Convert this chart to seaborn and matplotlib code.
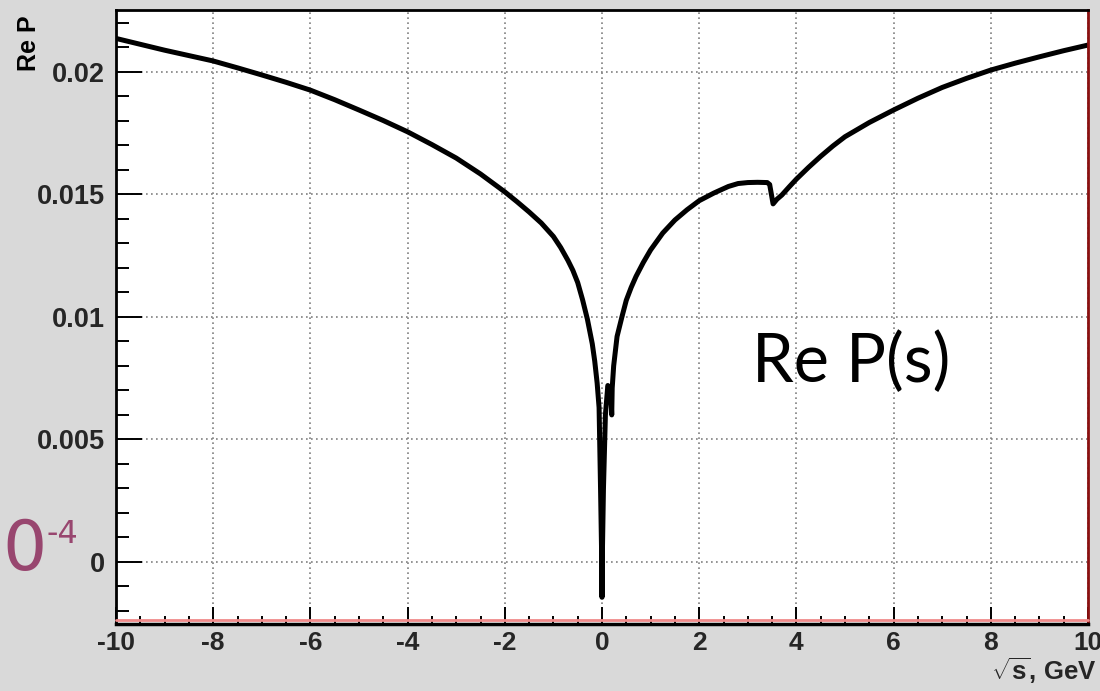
import matplotlib
matplotlib.use("Agg")
import matplotlib.pyplot as plt
import numpy as np
import pandas as pd
import seaborn as sns
from matplotlib.ticker import MultipleLocator, FixedLocator, FixedFormatter

# Real part of P(s) versus sqrt(s)
sqrt_s = [-10, -9.5, -9, -8.5, -8, -7.5, -7, -6.5, -6, -5.5, -5, -4.5, -4, -3.5,
          -3, -2.5, -2, -1.75, -1.5, -1.25, -1, -0.85, -0.7, -0.6, -0.5, -0.4,
          -0.3, -0.2, -0.15, -0.1, -0.06, -0.03, -0.005, 0.0, 0.005, 0.03, 0.07,
          0.12, 0.18, 0.20, 0.21, 0.24, 0.31, 0.41, 0.5, 0.6, 0.7, 0.85, 1.0,
          1.25, 1.5, 1.75, 2.0, 2.3, 2.6, 2.8, 3.0, 3.2, 3.4, 3.45, 3.52, 3.6,
          3.7, 3.85, 4.0, 4.25, 4.5, 4.75, 5.0, 5.5, 6.0, 6.5, 7.0, 7.5, 8.0,
          8.5, 9.0, 9.5, 10.0]
re_p = [0.02136, 0.02112, 0.02088, 0.02066, 0.02044, 0.02016, 0.01987, 0.01957,
        0.01925, 0.01886, 0.01844, 0.01801, 0.01755, 0.01703,
        0.01648, 0.01583, 0.01510, 0.01470, 0.01428, 0.01383, 0.01328, 0.01283,
        0.01230, 0.01190, 0.01140, 0.01070,
        0.00990, 0.00890, 0.00820, 0.00730, 0.00630, 0.00300, 0.00000, -0.00144,
        0.00000, 0.00300, 0.00600,
        0.00720, 0.00700, 0.00600, 0.00710, 0.00800, 0.00920, 0.01000, 0.01068,
        0.01120, 0.01165, 0.01222, 0.01273,
        0.01342, 0.01395, 0.01437, 0.01474, 0.01505, 0.01532, 0.01544, 0.01548,
        0.01549, 0.01548, 0.01540, 0.01461, 0.01480,
        0.01497, 0.01530, 0.01562, 0.01610, 0.01655, 0.01697, 0.01735, 0.01793,
        0.01844, 0.01892, 0.01936, 0.01973, 0.02007,
        0.02035, 0.02061, 0.02086, 0.02109]

x_ticks = [-10, -8, -6, -4, -2, 0, 2, 4, 6, 8, 10]
x_tick_labels = ["-10", "-8", "-6", "-4", "-2", "0", "2", "4", "6", "8", "10"]
y_ticks = [0, 0.005, 0.01, 0.015, 0.02]
y_tick_labels = ["0", "0.005", "0.01", "0.015", "0.02"]

sns.set_style("ticks")
plt.rcParams["font.family"] = ["Liberation Sans", "DejaVu Sans"]
plt.rcParams["font.weight"] = "bold"
plt.rcParams["mathtext.fontset"] = "custom"
plt.rcParams["mathtext.rm"] = "Liberation Sans:bold"
plt.rcParams["mathtext.bf"] = "Liberation Sans:bold"

W, H = 1100, 691
fig = plt.figure(figsize=(W / 100, H / 100), dpi=100, facecolor="#d9d9d9")
ax = fig.add_axes([116 / W, (H - 624) / H, (1088 - 116) / W, (624 - 10) / H])
ax.set_facecolor("white")

df = pd.DataFrame({"sqrt_s": sqrt_s, "re_p": re_p})
sns.lineplot(data=df, x="sqrt_s", y="re_p", ax=ax, color="black", lw=3.6,
             estimator=None, sort=False)
for ln in ax.get_lines():
    ln.set_solid_joinstyle("round")
    ln.set_solid_capstyle("round")

ax.set_xlim(-10, 10)
ax.set_ylim(-0.00253, 0.02252)

ax.xaxis.set_major_locator(FixedLocator(x_ticks))
ax.xaxis.set_major_formatter(FixedFormatter(x_tick_labels))
ax.xaxis.set_minor_locator(MultipleLocator(0.5))
ax.yaxis.set_major_locator(FixedLocator(y_ticks))
ax.yaxis.set_major_formatter(FixedFormatter(y_tick_labels))
ax.yaxis.set_minor_locator(MultipleLocator(0.001))

ax.tick_params(axis="x", which="major", direction="in", length=12, width=1.4,
               pad=5, labelsize=19, color="black")
ax.tick_params(axis="x", which="minor", direction="in", length=6, width=1.4,
               color="black")
ax.tick_params(axis="y", which="major", direction="in", length=19, width=1.4,
               pad=8, labelsize=19.5, color="black")
ax.tick_params(axis="y", which="minor", direction="in", length=9, width=1.4,
               color="black")

ax.grid(True, which="major", color="#808080", lw=1.2, linestyle=(0, (1, 2)))

for side in ["left", "top"]:
    ax.spines[side].set_color("black")
    ax.spines[side].set_linewidth(2)
ax.spines["bottom"].set_color("black")
ax.spines["bottom"].set_linewidth(2.5)
ax.spines["right"].set_color("#8a1010")
ax.spines["right"].set_linewidth(2)
# thin red frame line along the lower edge
ax.plot([0, 1], [0.006, 0.006], transform=ax.transAxes, color="#f08a8a",
        lw=2, clip_on=False, zorder=5)

ax.set_xlabel(r"$\sqrt{\mathbf{s}}$, GeV", fontsize=18.5, fontweight="bold", loc="right")
ax.xaxis.set_label_coords((1097 - 116) / 972, -(655 - 624) / 614)
ax.set_ylabel("")
fig.text(29 / W, 1 - 15 / H, "Re P", rotation=90, fontsize=18, fontweight="bold",
         ha="center", va="top", color="black")

# curve annotation
fig.text(752 / W, 1 - 382 / H, "Re P(s)", fontsize=48, fontweight="normal",
         family=["Lato", "DejaVu Sans"], ha="left", va="baseline", color="black")

# scale factor from the surrounding page
fig.text(47 / W, 1 - 570 / H, "0", fontsize=50, fontweight="normal",
         family=["DejaVu Sans"], ha="right", va="baseline", color="#98466f")
fig.text(46 / W, 1 - 543 / H, "-4", fontsize=23, fontweight="normal",
         family=["DejaVu Sans"], ha="left", va="baseline", color="#98466f")

fig.savefig("out.png", dpi=100, facecolor=fig.get_facecolor())
